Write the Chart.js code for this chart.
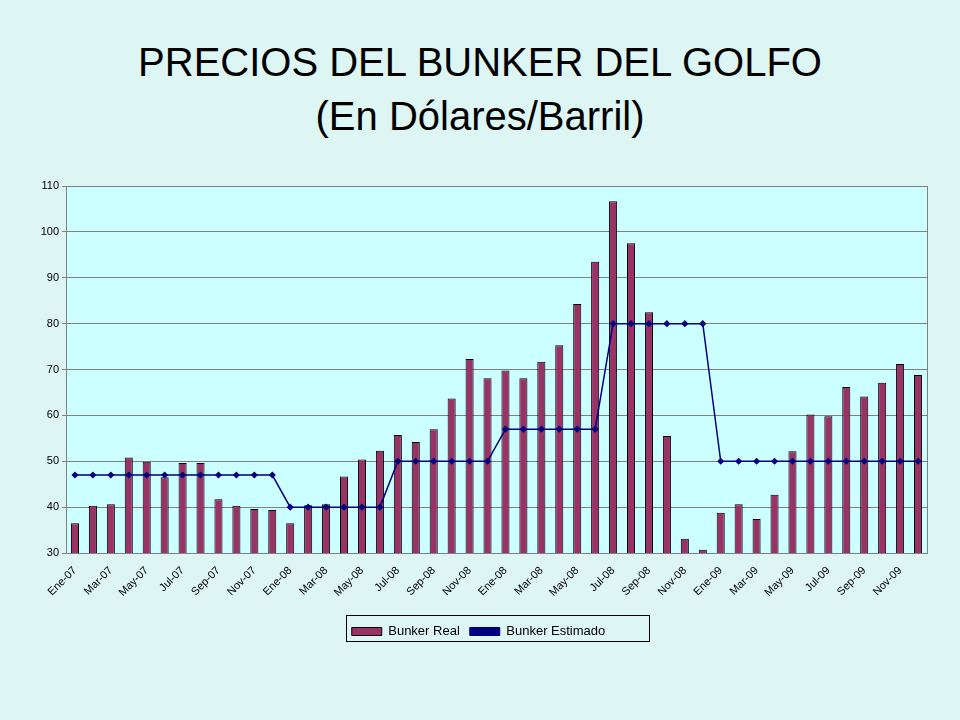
<!DOCTYPE html>
<html>
<head>
<meta charset="utf-8">
<script src="https://cdn.jsdelivr.net/npm/chart.js@4"></script>
<style>
  html, body { margin: 0; padding: 0; background: #DDF5F3; }
  #wrap { position: relative; width: 960px; height: 720px; }
  .title { position: absolute; left: 0; width: 960px; text-align: center;
           font-family: 'Liberation Sans', Arial, sans-serif; font-size: 40px; color: #000; }
  canvas { position: absolute; left: 0; top: 0; }
</style>
</head>
<body>
<div id="wrap">
  <div class="title" style="top:40px">PRECIOS DEL BUNKER DEL GOLFO</div>
  <div class="title" style="top:94px">(En Dólares/Barril)</div>
  <canvas id="c" width="960" height="720"></canvas>
</div>
<script>
// ─── Data ─────────────────────────────────────────────────────────
const months = ['Ene', 'Feb', 'Mar', 'Abr', 'May', 'Jun', 'Jul', 'Ago', 'Sep', 'Oct', 'Nov', 'Dic'];
const years = ['07', '08', '08', '09']; // the source repeats 2008
const labels = years.flatMap((y) => months.map((m) => m + '-' + y));

const bunkerReal = [
    36.5, 40.3, 40.6, 50.8, 49.9, 46.5, 49.6, 49.6, 41.7, 40.3, 39.6, 39.4,
    36.5, 40.4, 40.6, 46.7, 50.4, 52.3, 55.7, 54.2, 57.0, 63.7, 72.3, 68.1,
    69.8, 68.1, 71.7, 75.3, 84.3, 93.5, 106.7, 97.5, 82.5, 55.5, 33.1, 30.7,
    38.8, 40.6, 37.4, 42.7, 52.2, 60.2, 59.8, 66.2, 64.1, 67.1, 71.2, 68.8,
];
const bunkerEstimado = [
    47, 47, 47, 47, 47, 47, 47, 47, 47, 47, 47, 47,
    40, 40, 40, 40, 40, 40, 50, 50, 50, 50, 50, 50,
    57, 57, 57, 57, 57, 57, 80, 80, 80, 80, 80, 80,
    50, 50, 50, 50, 50, 50, 50, 50, 50, 50, 50, 50,
];

// ─── Plot background + legend frame ───────────────────────────────
const framePlugin = {
    id: 'frame',
    beforeDraw(chart) {
        const { ctx, chartArea: a } = chart;
        ctx.save();
        ctx.fillStyle = '#CCFFFF';
        ctx.fillRect(a.left, a.top, a.right - a.left, a.bottom - a.top);
        ctx.restore();
    },
    afterDraw(chart) {
        const { ctx, chartArea: a } = chart;
        const l = chart.legend;
        ctx.save();
        ctx.strokeStyle = '#808080';
        ctx.lineWidth = 1;
        ctx.strokeRect(a.left + 0.5, a.top + 0.5, a.right - a.left, a.bottom - a.top);
        ctx.strokeStyle = '#000';
        ctx.strokeRect(346.5, 615.5, 303, 26);
        ctx.restore();
    },
};

Chart.defaults.font.family = "'Liberation Sans', Arial, sans-serif";
Chart.defaults.font.size = 11;
Chart.defaults.color = '#000';

new Chart(document.getElementById('c'), {
    type: 'bar',
    data: {
        labels,
        datasets: [
            {
                label: 'Bunker Estimado',
                type: 'line',
                data: bunkerEstimado,
                borderColor: '#000080',
                backgroundColor: '#000080',
                borderWidth: 1.5,
                pointStyle: 'rectRot',
                pointRadius: 2.5,
                tension: 0,
                order: 0,
            },
            {
                label: 'Bunker Real',
                data: bunkerReal,
                backgroundColor: '#993366',
                borderColor: '#000',
                borderWidth: 1,
                categoryPercentage: 1,
                barPercentage: 0.45,
                order: 1,
            },
        ],
    },
    options: {
        responsive: false,
        animation: false,
        layout: { padding: { left: 30, right: 33, top: 186, bottom: 72 } },
        plugins: {
            legend: {
                position: 'bottom',
                reverse: true,
                labels: {
                    boxWidth: 30, boxHeight: 8, font: { size: 13 },
                    generateLabels(chart) {
                        return chart.data.datasets.map((d, i) => ({
                            text: d.label,
                            fillStyle: d.backgroundColor,
                            strokeStyle: d.type === 'line' ? '#000080' : '#000',
                            lineWidth: 1,
                            datasetIndex: i,
                        }));
                    },
                },
            },
            tooltip: { enabled: false },
        },
        scales: {
            x: {
                grid: { display: false },
                border: { color: '#808080' },
                ticks: {
                    autoSkip: false, maxRotation: 45, minRotation: 45,
                    callback: (v, i) => (i % 2 === 0 ? labels[i] : ''),
                },
                afterFit: (s) => { s.height = 62; },
            },
            y: {
                min: 30, max: 110,
                ticks: { stepSize: 10 },
                grid: { color: '#808080', drawTicks: true, tickLength: 4 },
                border: { color: '#808080' },
                afterFit: (s) => { s.width = 36; },
            },
        },
    },
    plugins: [framePlugin],
});
</script>
</body>
</html>
